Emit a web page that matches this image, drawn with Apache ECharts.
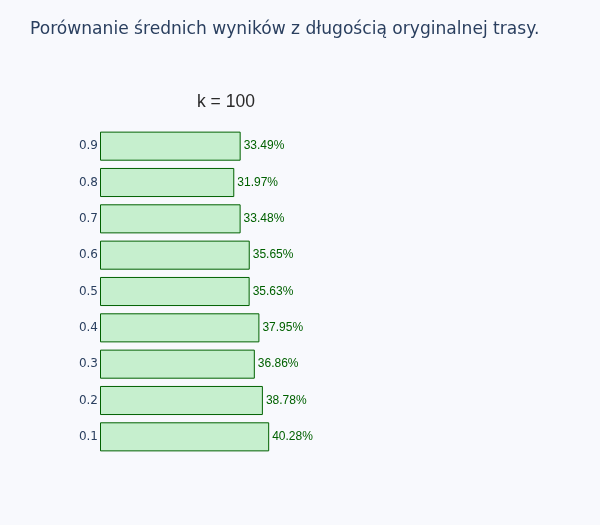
<!DOCTYPE html>
<html><head><meta charset="utf-8">
<script src="https://cdn.jsdelivr.net/npm/echarts@6/dist/echarts.min.js"></script>
<style>html,body{margin:0;padding:0;background:#f8f9fd;}#c{width:600px;height:525px;}</style>
</head><body><div id="c"></div>
<script>
const categories = ['0.1','0.2','0.3','0.4','0.5','0.6','0.7','0.8','0.9'];
const values = [40.28, 38.78, 36.86, 37.95, 35.63, 35.65, 33.48, 31.97, 33.49];
const titleText = 'Porównanie średnich wyników z długością oryginalnej trasy.';
const subtitleText = 'k = 100';

const chart = echarts.init(document.getElementById('c'));
chart.setOption({
  backgroundColor: '#f8f9fd',
  animation: false,
  title: [
    {text: titleText, left: 25, top: 16,
     textStyle: {fontFamily: 'DejaVu Sans, sans-serif', fontSize: 17.1, fontWeight: 'normal', color: '#2a3f5f'}},
    {text: subtitleText, left: 192, top: 88,
     textStyle: {fontFamily: 'Liberation Sans, Arial, sans-serif', fontSize: 17.5, fontWeight: 'normal', color: '#2a2a2a'}}
  ],
  grid: {left: 100, top: 128, width: 266, height: 327},
  xAxis: {type: 'value', min: 0, max: 63.33, show: false},
  yAxis: {type: 'category', data: categories,
    axisLine: {show: false}, axisTick: {show: false},
    axisLabel: {margin: 2, fontFamily: 'DejaVu Sans, sans-serif', fontSize: 12, color: '#2a3f5f'}},
  series: [{
    type: 'bar', data: values, barCategoryGap: '20%',
    itemStyle: {color: '#c6efce', borderColor: '#006100', borderWidth: 1},
    label: {show: true, position: 'right', distance: 3,
      formatter: p => p.value.toFixed(2) + '%',
      fontFamily: 'Liberation Sans, Arial, sans-serif', fontSize: 12, color: '#006100'}
  }]
});
</script></body></html>
